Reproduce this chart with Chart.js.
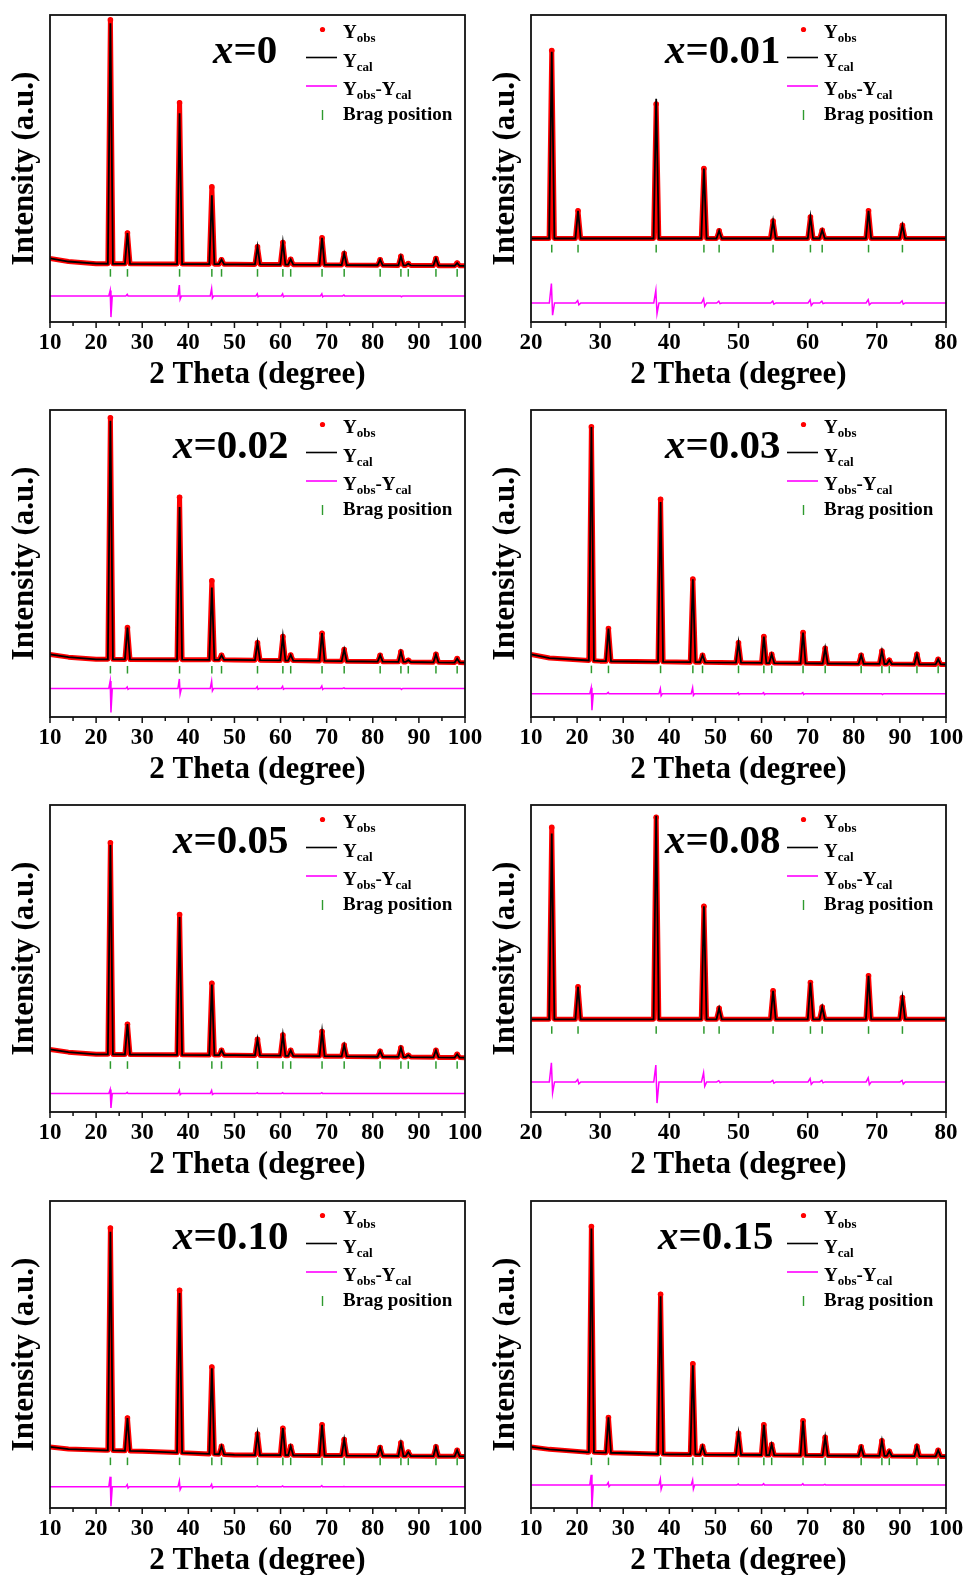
<!DOCTYPE html>
<html>
<head>
<meta charset="utf-8">
<title>Rietveld refinement</title>
<script src="https://cdn.jsdelivr.net/npm/chart.js@4.4.1/dist/chart.umd.min.js"></script>
<style>
  html, body { margin: 0; padding: 0; background: #fff; overflow: hidden; }
  #page { position: relative; width: 964px; height: 1575px; }
  #page canvas { position: absolute; }
</style>
</head>
<body>
<div id="page"></div>
<script>
// ============================================================
// Rietveld refinement plots, one panel per composition
// Yobs (red dots), Ycal (black), Yobs-Ycal (magenta), Bragg ticks (green)
// ============================================================

// ----------------------------------------------------------
// Reflection positions (2θ, degree)
// ----------------------------------------------------------
const braggWide   = [23.1, 26.8, 38.1, 45.1, 47.2, 55.0, 60.5, 62.2, 69.0, 73.8, 81.6, 86.1, 87.7, 93.7, 98.3];
const braggNarrow = [23.0, 26.8, 38.1, 45.0, 47.2, 55.0, 60.4, 62.1, 68.8, 73.7];

// Offset of the difference curve and of the tick row, per panel (same order as below)
const diffBase   = [8.5, 6.2, 9.3, 7.6, 6.0, 9.8, 6.9, 7.5];
const braggLevel = [16.0, 23.9, 15.4, 15.5, 15.3, 26.7, 15.2, 15.2];

// ----------------------------------------------------------
// x = 0
// ----------------------------------------------------------
const obs_0    = [98.4, 29.0, 71.4, 44.0, 20.3, 24.5, 25.9, 20.4, 27.4, 22.3, 20.3, 21.4, 19.0, 20.7, 19.2];
const cal_0    = [97.3, 29.0, 68.0, 41.3, 20.3, 24.5, 25.9, 20.4, 27.4, 22.3, 20.3, 21.4, 19.0, 20.7, 19.2];
const bgX_0    = [10, 14, 20, 50, 100];
const bgY_0    = [20.7, 19.7, 19.0, 18.8, 18.3];
const diffHi_0 = [10.3, 9.0, 12.0, 10.9, 8.5, 9.2, 9.2, 8.5, 9.2, 8.8, 8.5, 8.5, 8.5, 8.5, 8.5];
const diffLo_0 = [1.6, 8.5, 7.4, 7.8, 8.5, 8.2, 8.2, 8.5, 8.2, 8.5, 8.5, 8.2, 8.5, 8.5, 8.5];

// ----------------------------------------------------------
// x = 0.01
// ----------------------------------------------------------
const obs_001    = [88.4, 36.2, 71.0, 50.0, 29.7, 32.9, 34.2, 29.9, 36.2, 31.5];
const cal_001    = [88.0, 36.2, 72.7, 50.0, 29.7, 32.9, 34.2, 29.9, 36.2, 31.5];
const bgX_001    = [20, 80];
const bgY_001    = [27.2, 27.2];
const diffHi_001 = [12.5, 7.0, 10.3, 7.6, 6.8, 6.8, 7.2, 6.8, 7.3, 6.9];
const diffLo_001 = [2.2, 5.6, 2.7, 5.1, 6.0, 5.8, 5.4, 6.0, 5.6, 5.8];

// ----------------------------------------------------------
// x = 0.02
// ----------------------------------------------------------
const obs_002    = [97.5, 29.1, 71.6, 44.4, 20.1, 24.2, 26.2, 20.2, 27.3, 22.0, 20.1, 21.2, 18.5, 20.4, 19.0];
const cal_002    = [96.5, 29.1, 68.4, 42.2, 20.1, 24.2, 26.2, 20.2, 27.3, 22.0, 20.1, 21.2, 18.5, 20.4, 19.0];
const bgX_002    = [10, 14, 20, 50, 100];
const bgY_002    = [20.4, 19.5, 18.8, 18.6, 17.7];
const diffHi_002 = [11.7, 9.8, 12.4, 11.7, 9.3, 9.9, 10.0, 9.3, 10.1, 9.5, 9.3, 9.3, 9.3, 9.3, 9.3];
const diffLo_002 = [1.5, 9.0, 7.5, 8.5, 9.3, 9.0, 9.0, 9.3, 9.0, 9.3, 9.3, 9.0, 9.3, 9.3, 9.3];

// ----------------------------------------------------------
// x = 0.03
// ----------------------------------------------------------
const obs_003    = [94.5, 28.8, 70.9, 44.9, 20.1, 24.2, 26.2, 20.4, 27.5, 22.4, 20.1, 21.5, 18.5, 20.4, 18.8];
const cal_003    = [94.5, 28.8, 70.0, 44.9, 20.1, 24.2, 26.2, 20.4, 27.5, 22.4, 20.1, 21.5, 18.5, 20.4, 18.8];
const bgX_003    = [10, 14, 25, 60, 100];
const bgY_003    = [20.4, 19.2, 18.2, 17.6, 17.1];
const diffHi_003 = [9.5, 8.0, 9.2, 9.5, 7.6, 7.9, 7.9, 7.6, 7.9, 7.6, 7.6, 7.6, 7.6, 7.6, 7.6];
const diffLo_003 = [2.2, 7.6, 6.9, 7.0, 7.6, 7.3, 7.3, 7.6, 7.3, 7.6, 7.6, 7.3, 7.6, 7.6, 7.6];

// ----------------------------------------------------------
// x = 0.05
// ----------------------------------------------------------
const obs_005    = [87.7, 28.6, 64.3, 41.9, 20.1, 23.7, 25.1, 20.1, 26.2, 21.8, 19.8, 20.9, 18.5, 20.1, 18.8];
const cal_005    = [87.0, 28.6, 63.5, 41.5, 20.1, 23.7, 25.1, 20.1, 26.2, 21.8, 19.8, 20.9, 18.5, 20.1, 18.8];
const bgX_005    = [10, 14, 20, 50, 100];
const bgY_005    = [20.4, 19.5, 18.8, 18.5, 17.7];
const diffHi_005 = [7.3, 6.4, 7.1, 7.0, 6.0, 6.3, 6.3, 6.0, 6.3, 6.0, 6.0, 6.0, 6.0, 6.0, 6.0];
const diffLo_005 = [1.3, 6.0, 5.6, 5.7, 6.0, 6.0, 6.0, 6.0, 6.0, 6.0, 6.0, 6.0, 6.0, 6.0, 6.0];

// ----------------------------------------------------------
// x = 0.08
// ----------------------------------------------------------
const obs_008    = [92.7, 40.8, 96.0, 67.0, 33.8, 39.5, 42.2, 34.2, 44.4, 37.3];
const cal_008    = [90.7, 40.8, 96.5, 67.0, 33.8, 39.5, 42.2, 34.2, 44.4, 37.3];
const bgX_008    = [20, 80];
const bgY_008    = [30.2, 30.2];
const diffHi_008 = [16.0, 10.6, 15.3, 12.8, 10.2, 10.3, 10.9, 10.3, 11.1, 10.3];
const diffLo_008 = [6.2, 9.2, 2.9, 8.4, 9.6, 9.4, 9.0, 9.5, 8.9, 9.1];

// ----------------------------------------------------------
// x = 0.10
// ----------------------------------------------------------
const obs_010    = [91.2, 29.3, 70.9, 45.9, 20.1, 24.1, 26.0, 20.1, 27.1, 22.3, 19.7, 21.2, 18.2, 19.9, 18.8];
const cal_010    = [90.0, 29.3, 70.0, 45.5, 20.1, 24.1, 26.0, 20.1, 27.1, 22.3, 19.7, 21.2, 18.2, 19.9, 18.8];
const bgX_010    = [10, 14, 22, 30, 50, 100];
const bgY_010    = [19.9, 19.2, 18.8, 18.5, 17.3, 16.8];
const diffHi_010 = [10.2, 7.6, 8.8, 7.7, 6.9, 7.2, 7.2, 6.9, 7.3, 7.0, 6.9, 6.9, 6.9, 6.9, 6.9];
const diffLo_010 = [0.6, 6.5, 6.0, 6.5, 6.9, 6.9, 6.9, 6.9, 6.9, 6.9, 6.9, 6.9, 6.9, 6.9, 6.9];

// ----------------------------------------------------------
// x = 0.15
// ----------------------------------------------------------
const obs_015    = [91.7, 29.5, 69.6, 47.0, 20.1, 24.3, 27.1, 20.7, 28.4, 23.0, 19.9, 21.9, 18.5, 20.1, 18.8];
const cal_015    = [91.0, 29.5, 69.0, 46.5, 20.1, 24.3, 27.1, 20.7, 28.4, 23.0, 19.9, 21.9, 18.5, 20.1, 18.8];
const bgX_015    = [10, 14, 22, 40, 100];
const bgY_015    = [19.9, 19.1, 18.2, 17.5, 16.8];
const diffHi_015 = [10.8, 8.3, 9.4, 9.1, 7.5, 7.8, 7.9, 7.5, 7.9, 7.7, 7.5, 7.5, 7.5, 7.5, 7.5];
const diffLo_015 = [0.2, 7.0, 6.1, 6.2, 7.5, 7.5, 7.5, 7.5, 7.5, 7.5, 7.5, 7.5, 7.5, 7.5, 7.5];

// ----------------------------------------------------------
// Panel layout (grid cell + sample label offset)
// ----------------------------------------------------------
const panels = [
  { label: '0',    col: 0, row: 0, range: [10, 100], bragg: braggWide,   obs: obs_0,   cal: cal_0,   bgX: bgX_0,   bgY: bgY_0,   hi: diffHi_0,   lo: diffLo_0,   labelX: 163 },
  { label: '0.01', col: 1, row: 0, range: [20, 80],  bragg: braggNarrow, obs: obs_001, cal: cal_001, bgX: bgX_001, bgY: bgY_001, hi: diffHi_001, lo: diffLo_001, labelX: 134 },
  { label: '0.02', col: 0, row: 1, range: [10, 100], bragg: braggWide,   obs: obs_002, cal: cal_002, bgX: bgX_002, bgY: bgY_002, hi: diffHi_002, lo: diffLo_002, labelX: 123 },
  { label: '0.03', col: 1, row: 1, range: [10, 100], bragg: braggWide,   obs: obs_003, cal: cal_003, bgX: bgX_003, bgY: bgY_003, hi: diffHi_003, lo: diffLo_003, labelX: 134 },
  { label: '0.05', col: 0, row: 2, range: [10, 100], bragg: braggWide,   obs: obs_005, cal: cal_005, bgX: bgX_005, bgY: bgY_005, hi: diffHi_005, lo: diffLo_005, labelX: 123 },
  { label: '0.08', col: 1, row: 2, range: [20, 80],  bragg: braggNarrow, obs: obs_008, cal: cal_008, bgX: bgX_008, bgY: bgY_008, hi: diffHi_008, lo: diffLo_008, labelX: 134 },
  { label: '0.10', col: 0, row: 3, range: [10, 100], bragg: braggWide,   obs: obs_010, cal: cal_010, bgX: bgX_010, bgY: bgY_010, hi: diffHi_010, lo: diffLo_010, labelX: 123 },
  { label: '0.15', col: 1, row: 3, range: [10, 100], bragg: braggWide,   obs: obs_015, cal: cal_015, bgX: bgX_015, bgY: bgY_015, hi: diffHi_015, lo: diffLo_015, labelX: 127 },
];

const COL_LEFT = [0, 481];
const ROW_TOP  = [0, 395, 790, 1186];
const SERIF    = '"Liberation Serif", "Times New Roman", serif';

const RED     = '#ff0000';
const MAGENTA = '#ff00ff';
const GREEN   = '#2e9a2e';

// ----------------------------------------------------------
// Profile helpers
// ----------------------------------------------------------
function baseAt(bx, by, x) {
  for (let i = 1; i < bx.length; i++) {
    if (x <= bx[i]) {
      const t = (x - bx[i - 1]) / (bx[i] - bx[i - 1]);
      return by[i - 1] + t * (by[i] - by[i - 1]);
    }
  }
  return by[by.length - 1];
}

// background knots + one narrow peak per reflection
function profilePoints(pos, heights, bx, by, hw) {
  const pts = bx.map((x, i) => ({ x, y: by[i] }));
  pos.forEach((p, i) => {
    pts.push({ x: p - hw, y: baseAt(bx, by, p - hw) });
    pts.push({ x: p, y: heights[i], apex: true });
    pts.push({ x: p + hw, y: baseAt(bx, by, p + hw) });
  });
  return pts.sort((a, b) => a.x - b.x);
}

// flat residual with an up/down wiggle at each reflection
function diffPoints(pos, hi, lo, base, xmin, xmax) {
  const pts = [{ x: xmin, y: base }];
  pos.forEach((p, i) => {
    if (hi[i] === base && lo[i] === base) return;
    pts.push({ x: p - 0.35, y: base });
    pts.push({ x: p - 0.05, y: hi[i] });
    pts.push({ x: p + 0.12, y: lo[i] });
    pts.push({ x: p + 0.4,  y: base });
  });
  pts.push({ x: xmax, y: base });
  return pts;
}

// ----------------------------------------------------------
// Frame, outward ticks, sample label and legend
// ----------------------------------------------------------
function drawRich(ctx, parts, x, y, size) {
  let cx = x;
  parts.forEach(([txt, sub]) => {
    ctx.font = 'bold ' + (sub ? Math.round(size * 0.68) : size) + 'px ' + SERIF;
    ctx.fillText(txt, cx, sub ? y + 4 : y);
    cx += ctx.measureText(txt).width;
  });
}

const panelDecor = {
  id: 'panelDecor',
  afterDraw(chart, args, opts) {
    const { ctx, chartArea: a } = chart;
    const xs = chart.scales.x;
    ctx.save();

    // box
    ctx.strokeStyle = '#111';
    ctx.lineWidth = 1.8;
    ctx.strokeRect(a.left, a.top, a.right - a.left, a.bottom - a.top);

    // bottom ticks, major every 10, minor every 5
    ctx.lineWidth = 1.5;
    for (let v = xs.min; v <= xs.max + 1e-6; v += 5) {
      const px = xs.getPixelForValue(v);
      const len = (Math.round(v) % 10 === 0) ? 6 : 4;
      ctx.beginPath();
      ctx.moveTo(px, a.bottom);
      ctx.lineTo(px, a.bottom + len);
      ctx.stroke();
    }

    // sample label  x=...
    ctx.fillStyle = '#000';
    ctx.textBaseline = 'alphabetic';
    ctx.textAlign = 'left';
    const ly = a.top + 48;
    let lx = a.left + opts.labelX;
    ctx.font = 'italic bold 41px ' + SERIF;
    ctx.fillText('x', lx, ly);
    lx += ctx.measureText('x').width;
    ctx.font = 'bold 41px ' + SERIF;
    ctx.fillText('=' + opts.label, lx, ly);

    // legend
    const mx = a.left + 272.5;
    const tx = a.left + 293;
    ctx.fillStyle = RED;
    ctx.beginPath();
    ctx.arc(mx, a.top + 14.5, 2.6, 0, Math.PI * 2);
    ctx.fill();

    ctx.lineWidth = 1.6;
    ctx.strokeStyle = '#000';
    ctx.beginPath();
    ctx.moveTo(a.left + 256, a.top + 42.5);
    ctx.lineTo(a.left + 287, a.top + 42.5);
    ctx.stroke();

    ctx.strokeStyle = MAGENTA;
    ctx.beginPath();
    ctx.moveTo(a.left + 256, a.top + 71);
    ctx.lineTo(a.left + 287, a.top + 71);
    ctx.stroke();

    ctx.strokeStyle = GREEN;
    ctx.lineWidth = 1.4;
    ctx.beginPath();
    ctx.moveTo(mx, a.top + 95);
    ctx.lineTo(mx, a.top + 105);
    ctx.stroke();

    ctx.fillStyle = '#000';
    drawRich(ctx, [['Y'], ['obs', true]], tx, a.top + 23, 19);
    drawRich(ctx, [['Y'], ['cal', true]], tx, a.top + 51.5, 19);
    drawRich(ctx, [['Y'], ['obs', true], ['-'], ['Y'], ['cal', true]], tx, a.top + 80, 19);
    drawRich(ctx, [['Brag position']], tx, a.top + 105, 19);

    ctx.restore();
  }
};

// ----------------------------------------------------------
// Build one chart per panel
// ----------------------------------------------------------
function makePanel(p, k) {
  const canvas = document.createElement('canvas');
  canvas.width = 482;
  canvas.height = 394;
  canvas.style.left = COL_LEFT[p.col] + 'px';
  canvas.style.top  = ROW_TOP[p.row] + 'px';
  document.getElementById('page').appendChild(canvas);

  const [xmin, xmax] = p.range;
  const hw = xmax - xmin > 70 ? 0.55 : 0.38;

  new Chart(canvas, {
    type: 'scatter',
    data: {
      datasets: [
        {
          label: 'Ycal',
          data: profilePoints(p.bragg, p.cal, p.bgX, p.bgY, hw),
          showLine: true,
          borderColor: '#000',
          borderWidth: 1.8,
          pointRadius: 0,
          order: 0,
        },
        {
          label: 'Yobs',
          data: profilePoints(p.bragg, p.obs, p.bgX, p.bgY, hw),
          showLine: true,
          borderColor: RED,
          borderWidth: 5,
          borderJoinStyle: 'round',
          backgroundColor: RED,
          pointRadius: (c) => (c.raw && c.raw.apex ? 2.8 : 0),
          pointBorderWidth: 0,
          order: 1,
        },
        {
          label: 'Brag position',
          data: p.bragg.map((x) => ({ x, y: braggLevel[k] })),
          pointStyle: 'line',
          rotation: 90,
          pointRadius: 3.8,
          borderColor: GREEN,
          borderWidth: 1.5,
          order: 2,
        },
        {
          label: 'Yobs-Ycal',
          data: diffPoints(p.bragg, p.hi, p.lo, diffBase[k], xmin, xmax),
          showLine: true,
          borderColor: MAGENTA,
          borderWidth: 1.5,
          pointRadius: 0,
          order: 3,
        },
      ],
    },
    options: {
      responsive: false,
      animation: false,
      events: [],
      layout: { padding: { top: 15, right: 17, left: 0, bottom: 0 } },
      plugins: {
        legend: { display: false },
        tooltip: { enabled: false },
        panelDecor: { label: p.label, labelX: p.labelX },
      },
      scales: {
        x: {
          type: 'linear',
          min: xmin,
          max: xmax,
          // fixed axis band; end labels may hang past the box
          afterFit: (s) => { s.height = 72; s.paddingLeft = 0; s.paddingRight = 0; },
          grid: { display: false, drawTicks: false },
          border: { display: false },
          ticks: {
            stepSize: 10,
            autoSkip: false,
            maxRotation: 0,
            padding: 7,
            color: '#000',
            font: { family: SERIF, weight: 'bold', size: 23 },
          },
          title: {
            display: true,
            text: '2 Theta (degree)',
            color: '#000',
            font: { family: SERIF, weight: 'bold', size: 31 },
            padding: { top: 0, bottom: 0 },
          },
        },
        y: {
          min: 0,
          max: 100,
          afterFit: (s) => { s.width = 50; },
          grid: { display: false, drawTicks: false },
          border: { display: false },
          ticks: { display: false },
          title: {
            display: true,
            text: 'Intensity (a.u.)',
            color: '#000',
            font: { family: SERIF, weight: 'bold', size: 31 },
            padding: { top: 6, bottom: 0 },
          },
        },
      },
    },
    plugins: [panelDecor],
  });
}

panels.forEach(makePanel);
</script>
</body>
</html>
